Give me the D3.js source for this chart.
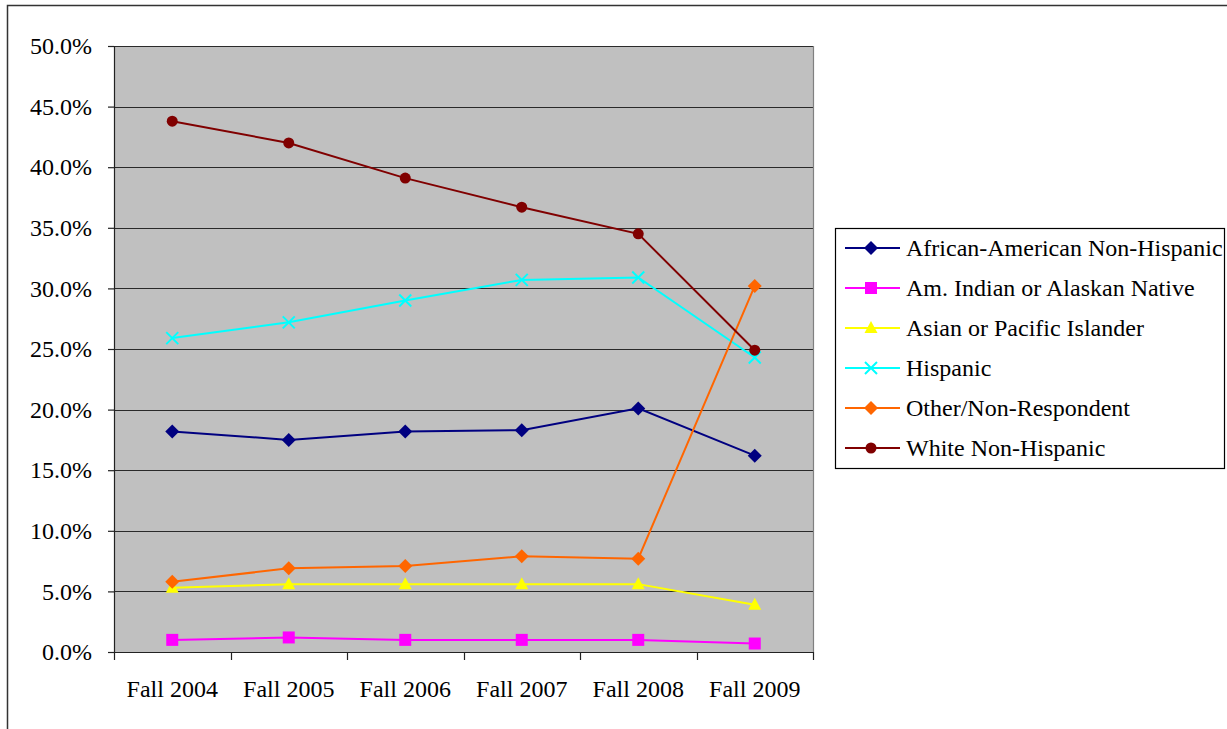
<!DOCTYPE html>
<html>
<head>
<meta charset="utf-8">
<script src="https://cdn.jsdelivr.net/npm/d3@7/dist/d3.min.js"></script>
<style>
  html, body { margin: 0; padding: 0; background: #fff; }
  svg { display: block; }
  svg text { font-family: "Liberation Serif", "Times New Roman", Times, "DejaVu Serif", serif; fill: #000; }
</style>
</head>
<body>
<svg id="chart" width="1227" height="729"></svg>
<script>
// Enrollment share by ethnicity, fall terms 2004-2009 (percent)
const terms = ["Fall 2004", "Fall 2005", "Fall 2006", "Fall 2007", "Fall 2008", "Fall 2009"];
const yTicks = [0, 5, 10, 15, 20, 25, 30, 35, 40, 45, 50];

const africanAmerican = [18.2, 17.5, 18.2, 18.3, 20.1, 16.2];
const amIndian        = [1.0, 1.2, 1.0, 1.0, 1.0, 0.7];
const asianPacific    = [5.3, 5.6, 5.6, 5.6, 5.6, 3.9];
const hispanic        = [25.9, 27.2, 29.0, 30.7, 30.9, 24.3];
const otherNonResp    = [5.8, 6.9, 7.1, 7.9, 7.7, 30.2];
const whiteNonHisp    = [43.8, 42.0, 39.1, 36.7, 34.5, 24.9];

const seriesNames = [
  "African-American Non-Hispanic",
  "Am. Indian or Alaskan Native",
  "Asian or Pacific Islander",
  "Hispanic",
  "Other/Non-Respondent",
  "White Non-Hispanic"
];
const seriesValues = [africanAmerican, amIndian, asianPacific, hispanic, otherNonResp, whiteNonHisp];
const seriesColors = ["#000080", "#ff00ff", "#ffff00", "#00ffff", "#ff6600", "#800000"];
const seriesMarkers = ["diamond", "square", "triangle", "cross", "diamond", "circle"];

const series = seriesNames.map((name, i) => ({
  name, values: seriesValues[i], color: seriesColors[i], marker: seriesMarkers[i]
}));

const FONT = "'Liberation Serif', 'Times New Roman', Times, 'DejaVu Serif', serif";

const svg = d3.select("#chart");

// outer chart frame
svg.append("rect")
  .attr("x", 7.5).attr("y", 5.5)
  .attr("width", 1400).attr("height", 900)
  .attr("fill", "none").attr("stroke", "#333").attr("stroke-width", 1.5);

const plot = { left: 114, right: 813, top: 46, bottom: 652 };

const x = d3.scaleBand().domain(terms).range([plot.left, plot.right]);
const y = d3.scaleLinear().domain([0, 50]).range([plot.bottom, plot.top]);

// plot background
svg.append("rect")
  .attr("x", plot.left).attr("y", plot.top)
  .attr("width", plot.right - plot.left).attr("height", plot.bottom - plot.top)
  .attr("fill", "#c0c0c0");

// horizontal gridlines
svg.append("g")
  .selectAll("line")
  .data(yTicks.filter(t => t > 0))
  .join("line")
  .attr("x1", plot.left).attr("x2", plot.right)
  .attr("y1", d => Math.round(y(d)) + 0.5).attr("y2", d => Math.round(y(d)) + 0.5)
  .attr("stroke", "#2a2a2a").attr("stroke-width", 1.2);

// right edge of plot area
svg.append("line")
  .attr("x1", plot.right + 0.5).attr("x2", plot.right + 0.5)
  .attr("y1", plot.top).attr("y2", plot.bottom)
  .attr("stroke", "#808080").attr("stroke-width", 1.2);

// y axis
const yAxis = d3.axisLeft(y)
  .tickValues(yTicks)
  .tickSize(6)
  .tickPadding(16)
  .tickFormat(d => d.toFixed(1) + "%");
const gy = svg.append("g").attr("transform", `translate(${plot.left},0)`).call(yAxis)
  .attr("font-family", FONT).attr("font-size", 24);
gy.select(".domain").attr("stroke", "#222").attr("stroke-width", 1.2);
gy.selectAll(".tick line").attr("stroke", "#222").attr("stroke-width", 1.2);
gy.selectAll(".tick text")
  .style("font-family", FONT)
  .style("font-size", "24px")
  .attr("fill", "#000");

// x axis: ticks sit between categories
const gx = svg.append("g").attr("transform", `translate(0,${plot.bottom})`);
gx.append("line")
  .attr("x1", plot.left).attr("x2", plot.right)
  .attr("y1", 0.5).attr("y2", 0.5)
  .attr("stroke", "#222").attr("stroke-width", 1.2);
const boundaries = terms.map(t => x(t)).concat([x(terms[terms.length - 1]) + x.bandwidth()]);
gx.selectAll("line.tk")
  .data(boundaries)
  .join("line")
  .attr("class", "tk")
  .attr("x1", d => Math.round(d) + 0.5).attr("x2", d => Math.round(d) + 0.5)
  .attr("y1", 0).attr("y2", 8)
  .attr("stroke", "#222").attr("stroke-width", 1.2);
gx.selectAll("text")
  .data(terms)
  .join("text")
  .attr("x", d => x(d) + x.bandwidth() / 2)
  .attr("y", 45)
  .attr("text-anchor", "middle")
  .style("font-family", FONT)
  .style("font-size", "24px")
  .text(d => d);

// marker shapes
function drawMarker(g, type, color, cx, cy) {
  if (type === "diamond") {
    g.append("path").attr("d", `M${cx},${cy - 7}L${cx + 7},${cy}L${cx},${cy + 7}L${cx - 7},${cy}Z`).attr("fill", color);
  } else if (type === "square") {
    g.append("rect").attr("x", cx - 6).attr("y", cy - 6).attr("width", 12).attr("height", 12).attr("fill", color);
  } else if (type === "triangle") {
    g.append("path").attr("d", `M${cx},${cy - 7}L${cx + 6.5},${cy + 5}L${cx - 6.5},${cy + 5}Z`).attr("fill", color);
  } else if (type === "cross") {
    g.append("path").attr("d", `M${cx - 6},${cy - 6}L${cx + 6},${cy + 6}M${cx - 6},${cy + 6}L${cx + 6},${cy - 6}`)
      .attr("stroke", color).attr("stroke-width", 2).attr("fill", "none");
  } else if (type === "circle") {
    g.append("circle").attr("cx", cx).attr("cy", cy).attr("r", 5.5).attr("fill", color);
  }
}

const line = d3.line()
  .x((d, i) => x(terms[i]) + x.bandwidth() / 2)
  .y(d => y(d));

const gSeries = svg.append("g");
series.forEach(s => {
  const g = gSeries.append("g");
  g.append("path")
    .attr("d", line(s.values))
    .attr("fill", "none")
    .attr("stroke", s.color)
    .attr("stroke-width", 2);
  s.values.forEach((v, i) => {
    drawMarker(g, s.marker, s.color, x(terms[i]) + x.bandwidth() / 2, y(v));
  });
});

// legend
const legend = svg.append("g");
legend.append("rect")
  .attr("x", 835.5).attr("y", 228.5)
  .attr("width", 389).attr("height", 240)
  .attr("fill", "#fff").attr("stroke", "#000").attr("stroke-width", 1.2);
series.forEach((s, i) => {
  const cy = 248 + i * 40;
  const g = legend.append("g");
  g.append("line")
    .attr("x1", 845).attr("x2", 900)
    .attr("y1", cy).attr("y2", cy)
    .attr("stroke", s.color).attr("stroke-width", 2);
  drawMarker(g, s.marker, s.color, 871, cy);
  g.append("text")
    .attr("x", 906).attr("y", cy + 8)
    .style("font-family", FONT)
    .style("font-size", "24px")
    .text(s.name);
});
</script>
</body>
</html>
